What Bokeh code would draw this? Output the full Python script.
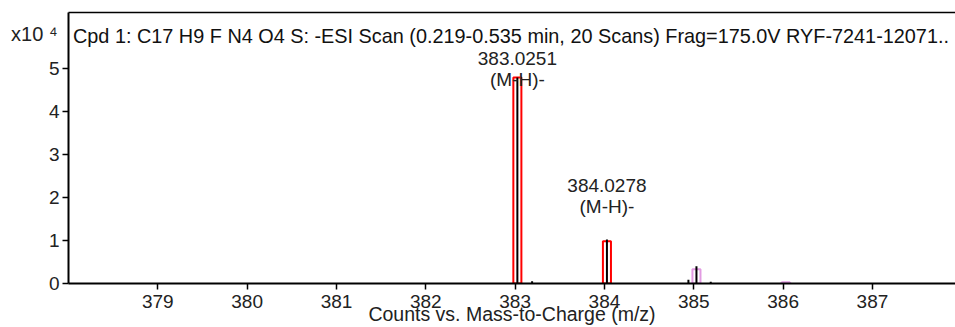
from bokeh.plotting import figure
from bokeh.models import Range1d, FixedTicker, LinearAxis, Label, ColumnDataSource
from bokeh.embed import file_html
from bokeh.resources import INLINE

# ---------------- data ----------------
title_text = "Cpd 1: C17 H9 F N4 O4 S: -ESI Scan (0.219-0.535 min, 20 Scans) Frag=175.0V RYF-7241-12071.."
x_title = "Counts vs. Mass-to-Charge (m/z)"
y_scale_text = "x10 \u2074"
x_ticks = [379, 380, 381, 382, 383, 384, 385, 386, 387]
y_ticks = [0, 1, 2, 3, 4, 5]

# measured spectrum sticks (counts in units of 10^4)
stick_mz = [383.0251, 383.19, 384.0278, 384.94, 385.03, 385.19]
stick_counts = [4.79, 0.05, 1.02, 0.09, 0.40, 0.04]

# predicted isotope boxes
pred_mz = [383.0251, 384.0278, 385.03, 386.03]
pred_counts = [4.79, 0.98, 0.33, 0.03]
pred_kind = ["matched", "matched", "unmatched", "unmatched"]

# peak annotations
peak_label_mz = [383.0251, 384.0278]
peak_label_counts = [4.79, 1.02]
peak_label_text = ["383.0251", "384.0278"]
ion_text = "(M-H)-"

# ---------------- styling / layout ----------------
FONT = "Liberation Sans"
TXT = "#222222"
kind_color = {"matched": "#ff0000", "unmatched": "#e29be2"}

W, H = 955, 327
p = figure(width=W, height=H, output_backend="svg", toolbar_location=None,
           x_range=Range1d(378.00, 387.93), y_range=Range1d(0, 6.30),
           min_border_left=68, min_border_right=0, min_border_top=12,
           min_border_bottom=44)
p.outline_line_color = None
p.xgrid.visible = False
p.ygrid.visible = False
p.background_fill_color = "white"
p.border_fill_color = "white"

for ax in (p.xaxis[0], p.yaxis[0]):
    ax.axis_line_color = "black"
    ax.axis_line_width = 2
    ax.major_tick_line_color = "black"
    ax.major_tick_line_width = 1.5
    ax.major_tick_in = 0
    ax.major_tick_out = 6
    ax.minor_tick_line_color = None
    ax.major_label_text_font = FONT
    ax.major_label_text_font_size = "19px"
    ax.major_label_text_color = TXT
p.xaxis[0].ticker = FixedTicker(ticks=x_ticks)
p.yaxis[0].ticker = FixedTicker(ticks=y_ticks)
p.xaxis[0].major_label_standoff = 5
p.yaxis[0].major_label_standoff = 3
p.xaxis[0].axis_label = x_title
p.xaxis[0].axis_label_text_font = FONT
p.xaxis[0].axis_label_text_font_size = "19.5px"
p.xaxis[0].axis_label_text_font_style = "normal"
p.xaxis[0].axis_label_text_color = TXT
p.xaxis[0].axis_label_standoff = -8

# scale factor label, as a tick-less extra axis on the left
scale_axis = LinearAxis(ticker=FixedTicker(ticks=[5.81]),
                        major_label_overrides={5.81: y_scale_text},
                        axis_line_color=None, major_tick_line_color=None,
                        minor_tick_line_color=None, major_label_standoff=-18,
                        major_label_text_font=FONT,
                        major_label_text_font_size="20px",
                        major_label_text_color=TXT)
p.add_layout(scale_axis, "left")

top_axis = LinearAxis(ticker=FixedTicker(ticks=[]), axis_line_color="black",
                      axis_line_width=1.5, major_tick_line_color=None,
                      minor_tick_line_color=None)
p.add_layout(top_axis, "above")

# predicted isotope boxes
box_src = ColumnDataSource(dict(x=pred_mz, top=pred_counts,
                                color=[kind_color[k] for k in pred_kind]))
p.vbar(x="x", top="top", bottom=0, width=0.09, source=box_src,
       fill_color=None, line_color="color", line_width=2)

# spectrum sticks
stick_src = ColumnDataSource(dict(x=stick_mz, y=stick_counts,
                                  y0=[0] * len(stick_mz)))
p.segment(x0="x", y0="y0", x1="x", y1="y", source=stick_src,
          line_color="black", line_width=2)

# peak annotations
for mz, h, txt in zip(peak_label_mz, peak_label_counts, peak_label_text):
    yb = min(h + 1.26, 5.23)
    p.add_layout(Label(x=mz, y=yb, text=txt, text_align="center",
                       text_baseline="alphabetic", text_font=FONT,
                       text_font_size="19px", text_color=TXT))
    p.add_layout(Label(x=mz, y=yb - 0.49, text=ion_text, text_align="center",
                       text_baseline="alphabetic", text_font=FONT,
                       text_font_size="19px", text_color=TXT))

# in-plot title
p.add_layout(Label(x=378.05, y=5.744, text=title_text, text_align="left",
                   text_baseline="alphabetic", text_font=FONT,
                   text_font_size="19.85px", text_color="#111111"))

open("out.html", "w").write(file_html(p, INLINE))
